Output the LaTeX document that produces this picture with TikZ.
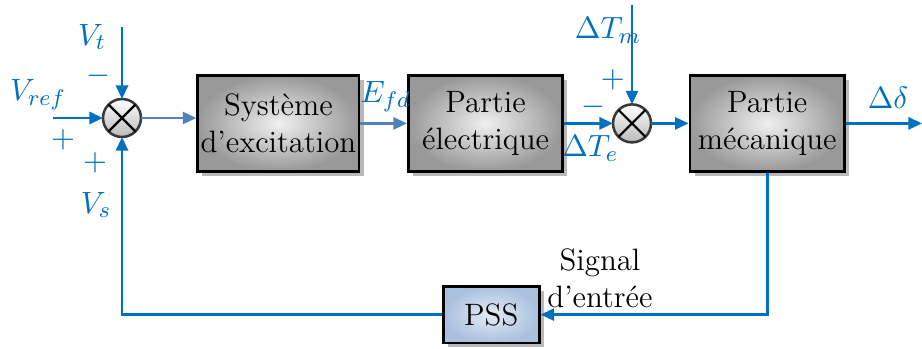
\documentclass[tikz,border=0pt]{standalone}
\usepackage{amsmath}
\usepackage{xcolor}
\usetikzlibrary{positioning, arrows.meta, calc, shadows}

\definecolor{sigblue}{HTML}{0070C0}
\definecolor{paleblue}{HTML}{4F81BD}
\definecolor{psslight}{HTML}{E4ECF6}
\definecolor{pssdark}{HTML}{A9C0DE}

\newcommand{\blockfont}{\fontsize{11}{13.2}\selectfont}

\begin{document}
\begin{tikzpicture}[
  blockbox/.style={
    rectangle, draw=black, line width=1pt, shading=radial,
    inner color=gray!12, outer color=gray!80, align=center,
    minimum width=1.93cm, minimum height=1.2cm, inner sep=1pt,
    font=\blockfont,
    drop shadow={shadow xshift=1.6pt, shadow yshift=-1.6pt,
                 fill=gray!55, opacity=1}
  },
  pssbox/.style={
    rectangle, draw=black, line width=1pt, shading=radial,
    inner color=psslight, outer color=pssdark, align=center,
    minimum width=1.2cm, minimum height=0.71cm, inner sep=2pt,
    font=\blockfont,
    drop shadow={shadow xshift=1.6pt, shadow yshift=-1.6pt,
                 fill=gray!55, opacity=1}
  },
  sumnode/.style={
    circle, draw=gray!45!black, line width=0.9pt,
    minimum size=0.475cm, inner sep=0pt, outer sep=0pt,
    top color=white, bottom color=gray!55
  },
  sig/.style={-{Triangle[length=0.17cm, width=0.15cm]}, sigblue, line width=1pt},
  sigpale/.style={sig, paleblue},
  lbl/.style={text=sigblue, inner sep=0pt, font=\blockfont},
]

\useasboundingbox (0, 0) rectangle (11.525, 4.3625);

%% ── Summing junctions ─────────────────────────────────────────────────────────
\node[sumnode] (sum1) at (1.525, 2.8875) {};
\draw[line width=0.8pt] (sum1.north west) -- (sum1.south east)
                        (sum1.north east) -- (sum1.south west);

\node[sumnode] (sum2) at (7.9, 2.82) {};
\draw[line width=0.8pt] (sum2.north west) -- (sum2.south east)
                        (sum2.north east) -- (sum2.south west);

%% ── Blocks ───────────────────────────────────────────────────────────────────
\node[blockbox] (excit) at (3.48, 2.82)  {Système\\d'excitation};
\node[blockbox] (elec)  at (6.07, 2.82)  {Partie\\électrique};
\node[blockbox] (meca)  at (9.59, 2.82)  {Partie\\mécanique};
\node[pssbox]   (pss)   at (6.14, 0.43)  {PSS};

%% ── Free ends ────────────────────────────────────────────────────────────────
\coordinate (vtin)   at (1.525, 4.025);
\coordinate (vrefin) at (0.6625, 2.8875);
\coordinate (tmin)   at (7.9, 4.3);
\coordinate (ddout)  at (11.525, 2.82);

%% ── Signals ──────────────────────────────────────────────────────────────────
\draw[sig] (vtin) -- (sum1.north);
\draw[sig] (vrefin) -- (sum1.west);
\draw[sigpale] (sum1.east) -- (sum1.east -| excit.west);
\draw[sigpale] (excit.east) -- (elec.west);
\draw[sig] (elec.east) -- (sum2.west);
\draw[sig] (tmin) -- (sum2.north);
\draw[sig] (sum2.east) -- (meca.west);
\draw[sig] (meca.east) -- (ddout);
\draw[sig] (meca.south) |- (pss.east);
\draw[sig] (pss.west) -| (sum1.south);

%% ── Labels ───────────────────────────────────────────────────────────────────
\node[lbl] (vt)   at (1.15, 3.9)    {$V_t$};
\node[lbl] (vtm)  at (1.225, 3.42)  {$-$};
\node[lbl] (vref) at (0.475, 3.175) {$V_{ref}$};
\node[lbl] (vrp)  at (0.79, 2.61)   {$+$};
\node[lbl] (vsp)  at (1.19, 2.325)  {$+$};
\node[lbl] (vs)   at (1.2, 1.8)     {$V_s$};
\node[lbl] (efd)  at (4.82, 3.15)   {$E_{fd}$};
\node[lbl] (te)   at (7.38, 2.51)   {$\Delta T_e$};
\node[lbl] (tem)  at (7.42, 3.03)   {$-$};
\node[lbl] (tm)   at (7.6, 3.98)    {$\Delta T_m$};
\node[lbl] (tmp)  at (7.66, 3.37)   {$+$};
\node[lbl] (dd)   at (11.1, 3.14)   {$\Delta\delta$};
\node[align=center, inner sep=0pt, font=\blockfont] (sigin) at (7.5, 0.88)
  {Signal\\d'entrée};

\end{tikzpicture}
\end{document}
